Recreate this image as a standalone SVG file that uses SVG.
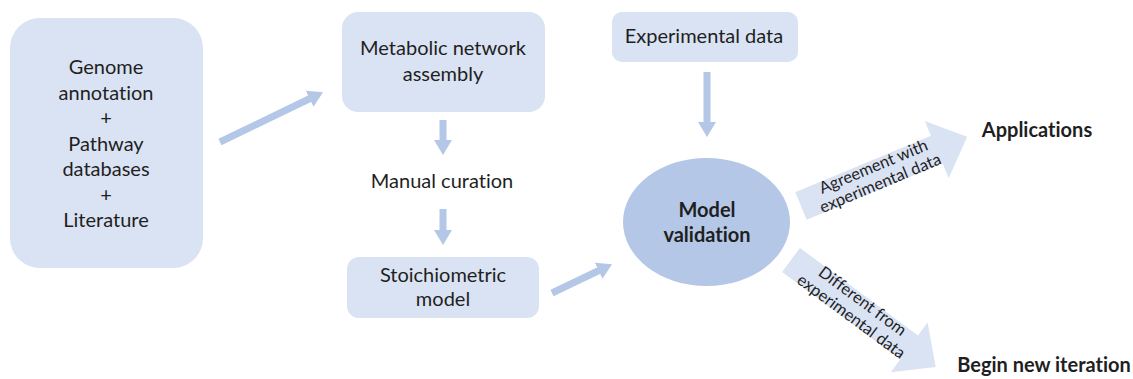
<svg xmlns="http://www.w3.org/2000/svg" width="1133" height="379" viewBox="0 0 1133 379">
  <style>
    .box { fill: #dae3f3; }
    .oval { fill: #b4c7e7; }
    .block { fill: #dae3f3; }
    text { font-variant-ligatures: none; }
    .txt { font-family: Lato, "Liberation Sans", sans-serif; font-size: 20px; fill: #1f1f1f; text-anchor: middle; }
    .bold { font-weight: bold; }
    .small { font-family: Lato, "Liberation Sans", sans-serif; font-size: 16.5px; fill: #1f1f1f; text-anchor: middle; }
    .shaft { stroke: #b4c7e7; stroke-width: 7; fill: none; }
  </style>
  <defs>
    <marker id="head" markerUnits="userSpaceOnUse" viewBox="0 -10 16 20" refX="0.5" refY="0" markerWidth="16" markerHeight="20" orient="auto">
      <path d="M0,-9 L15,0 L0,9 z" fill="#b4c7e7"/>
    </marker>
  </defs>

  <rect width="1133" height="379" fill="#ffffff"/>

  <!-- Inputs -->
  <g id="inputs">
    <rect class="box" x="10" y="18" width="193" height="250" rx="30"/>
    <text class="txt" x="106" y="74">Genome</text>
    <text class="txt" x="106" y="99.5">annotation</text>
    <text class="txt" x="106" y="125">+</text>
    <text class="txt" x="106" y="150.5">Pathway</text>
    <text class="txt" x="106" y="176">databases</text>
    <text class="txt" x="106" y="201.5">+</text>
    <text class="txt" x="106" y="227">Literature</text>
  </g>

  <g id="network-assembly">
    <rect class="box" x="342" y="12" width="203" height="100" rx="16"/>
    <text class="txt" x="443" y="55">Metabolic network</text>
    <text class="txt" x="443" y="81">assembly</text>
  </g>

  <g id="manual-curation">
    <text class="txt" x="442" y="188">Manual curation</text>
  </g>

  <g id="stoichiometric-model">
    <rect class="box" x="347" y="257" width="192" height="61" rx="12"/>
    <text class="txt" x="443" y="282">Stoichiometric</text>
    <text class="txt" x="443" y="306">model</text>
  </g>

  <g id="experimental-data">
    <rect class="box" x="612" y="12" width="186" height="50" rx="10"/>
    <text class="txt" x="704" y="43">Experimental data</text>
  </g>

  <g id="model-validation">
    <ellipse class="oval" cx="706.5" cy="222" rx="83.5" ry="64"/>
    <text class="txt bold" x="707" y="217">Model</text>
    <text class="txt bold" x="707" y="242">validation</text>
  </g>

  <g id="applications">
    <text class="txt bold" x="1037" y="137">Applications</text>
  </g>

  <g id="new-iteration">
    <text class="txt bold" x="1044" y="372">Begin new iteration</text>
  </g>

  <!-- Connectors -->
  <g id="connectors">
    <line class="shaft" x1="220" y1="142" x2="310" y2="98.5" marker-end="url(#head)"/>
    <line class="shaft" x1="443" y1="120" x2="443" y2="140.5" marker-end="url(#head)"/>
    <line class="shaft" x1="443" y1="209" x2="443" y2="230.5" marker-end="url(#head)"/>
    <line class="shaft" x1="707" y1="72" x2="707" y2="122.5" marker-end="url(#head)"/>
    <line class="shaft" x1="552" y1="293" x2="599" y2="270.5" marker-end="url(#head)"/>

    <!-- outcome block arrows -->
    <g transform="translate(801,206) rotate(-22.6)">
      <path class="block" d="M0,-15 L147,-15 L147,-31 L180,0 L147,31 L147,15 L0,15 z"/>
      <text class="small" x="82" y="-3">Agreement with</text>
      <text class="small" x="82" y="15">experimental data</text>
    </g>
    <g transform="translate(791,260) rotate(36.5)">
      <path class="block" d="M0,-15 L147,-15 L147,-31 L180,0 L147,31 L147,15 L0,15 z"/>
      <text class="small" x="82" y="-4">Different from</text>
      <text class="small" x="82" y="15">experimental data</text>
    </g>
  </g>
</svg>
